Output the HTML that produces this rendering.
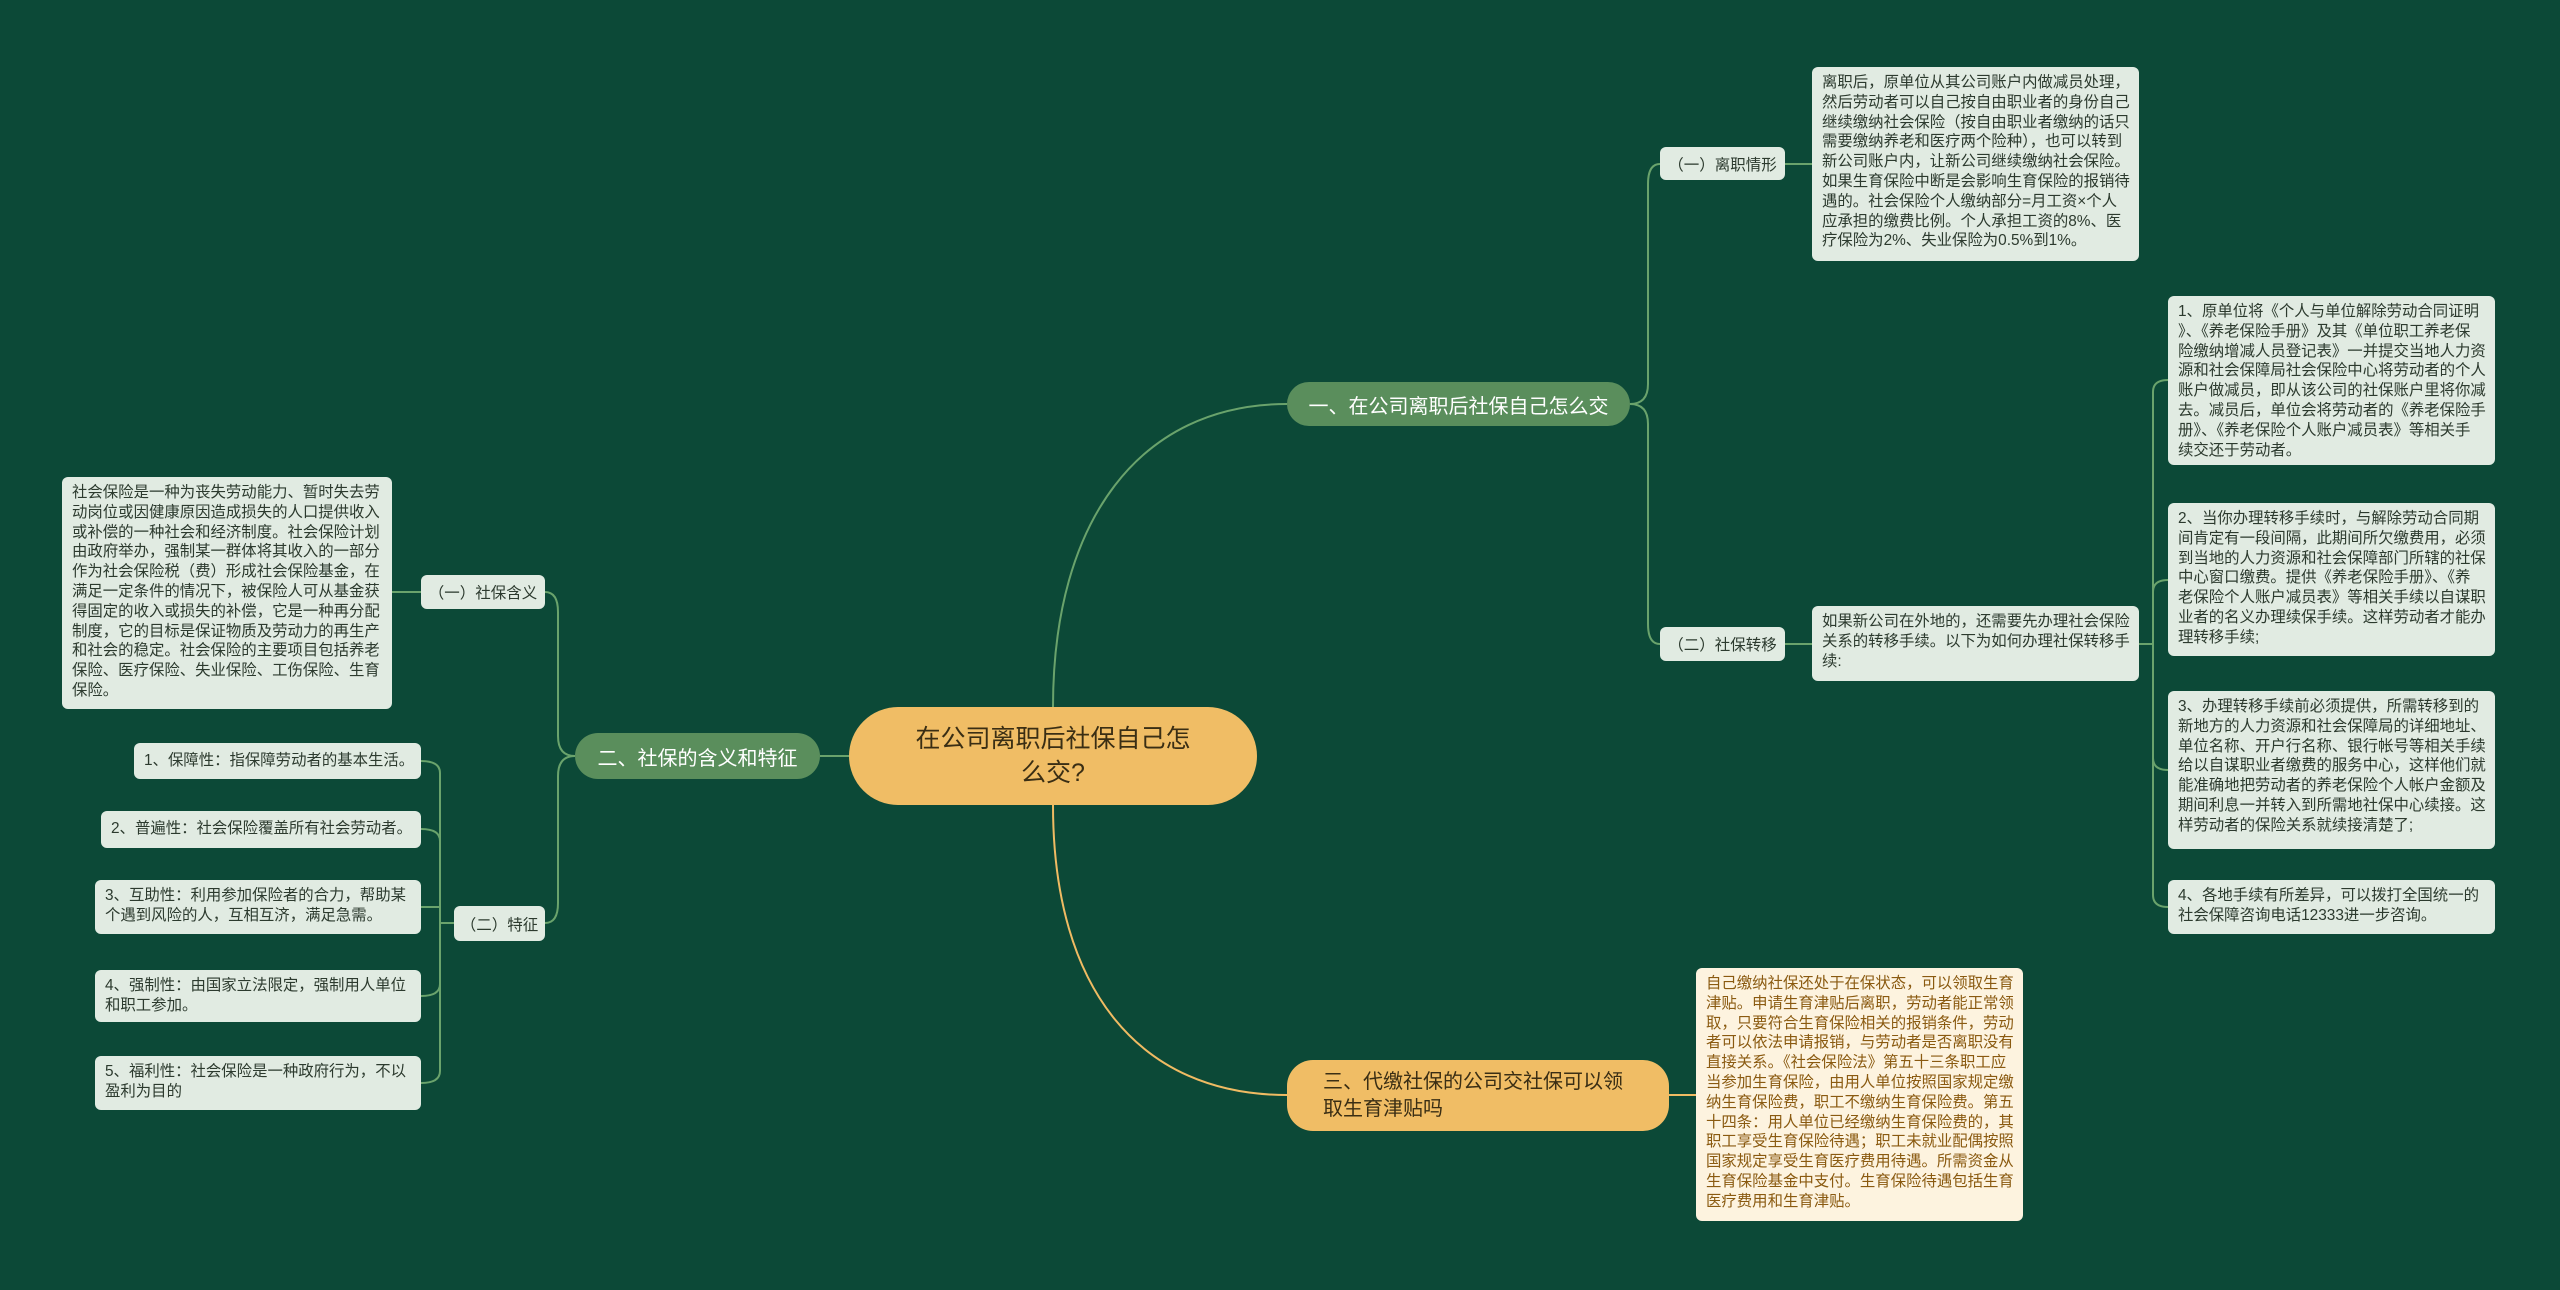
<!DOCTYPE html>
<html><head><meta charset="utf-8">
<style>
html,body{margin:0;padding:0}
body{width:2560px;height:1290px;background:#0c4937;position:relative;overflow:hidden;font-family:"Liberation Sans","Noto Sans CJK SC",sans-serif}
.n{position:absolute;box-sizing:border-box;white-space:nowrap}
.box{background:#e1ebe2;color:#2c3a2e;border-radius:6px;font-size:15.4px;line-height:19.8px;padding:6px 10px}
.sub{background:#e1ebe2;color:#2c3a2e;border-radius:6px;font-size:15.5px;display:flex;align-items:center;justify-content:center}
.br{background:#5a8e5c;color:#fff;font-size:20px;display:flex;align-items:center;justify-content:center;border-radius:23px}
.ob{background:#fdf3df;color:#8a5a10;border-radius:6px;font-size:15.4px;line-height:19.8px;padding:6px 10px}
svg{position:absolute;left:0;top:0}
</style></head><body>
<svg width="2560" height="1290">
<g fill="none" stroke="#6aa36c" stroke-width="2">
<path d="M1053 707 C1053 520 1140 404 1287 404"/>
<path d="M820 756 L849 756"/>
<path d="M1630 404 Q1648 404 1648 384 L1648 184 Q1648 164 1660 164"/>
<path d="M1630 404 Q1648 404 1648 424 L1648 624 Q1648 644 1660 644"/>
<path d="M1785 164 L1812 164"/>
<path d="M1785 644 L1812 644"/>
<path d="M2139 644 L2153 644"/>
<path d="M2153 644 L2153 392 Q2153 380 2168 380"/>
<path d="M2153 644 L2153 592 Q2153 580 2168 580"/>
<path d="M2153 644 L2153 758 Q2153 770 2168 770"/>
<path d="M2153 644 L2153 895 Q2153 907 2168 907"/>
<path d="M575 756 Q558 756 558 736 L558 612 Q558 592 545 592"/>
<path d="M575 756 Q558 756 558 776 L558 903 Q558 923 545 923"/>
<path d="M421 592 L392 592"/>
<path d="M454 923 L440 923"/>
<path d="M440 923 L440 773 Q440 761 421 761"/>
<path d="M440 923 L440 841 Q440 829 421 829"/>
<path d="M440 923 L440 907 L421 907"/>
<path d="M440 923 L440 984 Q440 996 421 996"/>
<path d="M440 923 L440 1071 Q440 1083 421 1083"/>
</g>
<g fill="none" stroke="#f0bb63" stroke-width="2">
<path d="M1053 805 C1053 990 1140 1095 1287 1095"/>
<path d="M1669 1095 L1696 1095"/>
</g>
</svg>

<div class="n" style="left:849px;top:707px;width:408px;height:98px;background:#f0bd65;border-radius:49px;color:#3a2e14;font-size:25px;line-height:34px;text-align:center;padding-top:15px">在公司离职后社保自己怎<br>么交?</div>

<div class="n br" style="left:1287px;top:382px;width:343px;height:44px">一、在公司离职后社保自己怎么交</div>
<div class="n br" style="left:575px;top:733px;width:245px;height:46px">二、社保的含义和特征</div>
<div class="n" style="left:1287px;top:1060px;width:382px;height:71px;background:#f0bd65;border-radius:26px;color:#3a2e14;font-size:20px;line-height:27px;padding:9px 0 0 36px">三、代缴社保的公司交社保可以领<br>取生育津贴吗</div>

<div class="n sub" style="left:1660px;top:147px;width:125px;height:33px">（一）离职情形</div>
<div class="n sub" style="left:1660px;top:627px;width:125px;height:34px">（二）社保转移</div>

<div class="n box" style="left:1812px;top:67px;width:327px;height:194px">离职后，原单位从其公司账户内做减员处理，<br>然后劳动者可以自己按自由职业者的身份自己<br>继续缴纳社会保险（按自由职业者缴纳的话只<br>需要缴纳养老和医疗两个险种），也可以转到<br>新公司账户内，让新公司继续缴纳社会保险。<br>如果生育保险中断是会影响生育保险的报销待<br>遇的。社会保险个人缴纳部分=月工资×个人<br>应承担的缴费比例。个人承担工资的8%、医<br>疗保险为2%、失业保险为0.5%到1%。</div>

<div class="n box" style="left:1812px;top:606px;width:327px;height:75px">如果新公司在外地的，还需要先办理社会保险<br>关系的转移手续。以下为如何办理社保转移手<br>续:</div>

<div class="n box" style="left:2168px;top:296px;width:327px;height:169px">1、原单位将《个人与单位解除劳动合同证明<br>》、《养老保险手册》及其《单位职工养老保<br>险缴纳增减人员登记表》一并提交当地人力资<br>源和社会保障局社会保险中心将劳动者的个人<br>账户做减员，即从该公司的社保账户里将你减<br>去。减员后，单位会将劳动者的《养老保险手<br>册》、《养老保险个人账户减员表》等相关手<br>续交还于劳动者。</div>

<div class="n box" style="left:2168px;top:503px;width:327px;height:153px">2、当你办理转移手续时，与解除劳动合同期<br>间肯定有一段间隔，此期间所欠缴费用，必须<br>到当地的人力资源和社会保障部门所辖的社保<br>中心窗口缴费。提供《养老保险手册》、《养<br>老保险个人账户减员表》等相关手续以自谋职<br>业者的名义办理续保手续。这样劳动者才能办<br>理转移手续;</div>

<div class="n box" style="left:2168px;top:691px;width:327px;height:158px">3、办理转移手续前必须提供，所需转移到的<br>新地方的人力资源和社会保障局的详细地址、<br>单位名称、开户行名称、银行帐号等相关手续<br>给以自谋职业者缴费的服务中心，这样他们就<br>能准确地把劳动者的养老保险个人帐户金额及<br>期间利息一并转入到所需地社保中心续接。这<br>样劳动者的保险关系就续接清楚了;</div>

<div class="n box" style="left:2168px;top:880px;width:327px;height:54px">4、各地手续有所差异，可以拨打全国统一的<br>社会保障咨询电话12333进一步咨询。</div>

<div class="n ob" style="left:1696px;top:968px;width:327px;height:253px">自己缴纳社保还处于在保状态，可以领取生育<br>津贴。申请生育津贴后离职，劳动者能正常领<br>取，只要符合生育保险相关的报销条件，劳动<br>者可以依法申请报销，与劳动者是否离职没有<br>直接关系。《社会保险法》第五十三条职工应<br>当参加生育保险，由用人单位按照国家规定缴<br>纳生育保险费，职工不缴纳生育保险费。第五<br>十四条：用人单位已经缴纳生育保险费的，其<br>职工享受生育保险待遇；职工未就业配偶按照<br>国家规定享受生育医疗费用待遇。所需资金从<br>生育保险基金中支付。生育保险待遇包括生育<br>医疗费用和生育津贴。</div>

<div class="n sub" style="left:421px;top:575px;width:124px;height:34px">（一）社保含义</div>
<div class="n sub" style="left:454px;top:906px;width:91px;height:35px">（二）特征</div>

<div class="n box" style="left:62px;top:477px;width:330px;height:232px">社会保险是一种为丧失劳动能力、暂时失去劳<br>动岗位或因健康原因造成损失的人口提供收入<br>或补偿的一种社会和经济制度。社会保险计划<br>由政府举办，强制某一群体将其收入的一部分<br>作为社会保险税（费）形成社会保险基金，在<br>满足一定条件的情况下，被保险人可从基金获<br>得固定的收入或损失的补偿，它是一种再分配<br>制度，它的目标是保证物质及劳动力的再生产<br>和社会的稳定。社会保险的主要项目包括养老<br>保险、医疗保险、失业保险、工伤保险、生育<br>保险。</div>

<div class="n box" style="left:134px;top:743px;width:287px;height:36px;padding-top:8px">1、保障性：指保障劳动者的基本生活。</div>
<div class="n box" style="left:101px;top:811px;width:320px;height:37px;padding-top:8px">2、普遍性：社会保险覆盖所有社会劳动者。</div>
<div class="n box" style="left:95px;top:880px;width:326px;height:54px">3、互助性：利用参加保险者的合力，帮助某<br>个遇到风险的人，互相互济，满足急需。</div>
<div class="n box" style="left:95px;top:970px;width:326px;height:52px">4、强制性：由国家立法限定，强制用人单位<br>和职工参加。</div>
<div class="n box" style="left:95px;top:1056px;width:326px;height:54px">5、福利性：社会保险是一种政府行为，不以<br>盈利为目的</div>
</body></html>
